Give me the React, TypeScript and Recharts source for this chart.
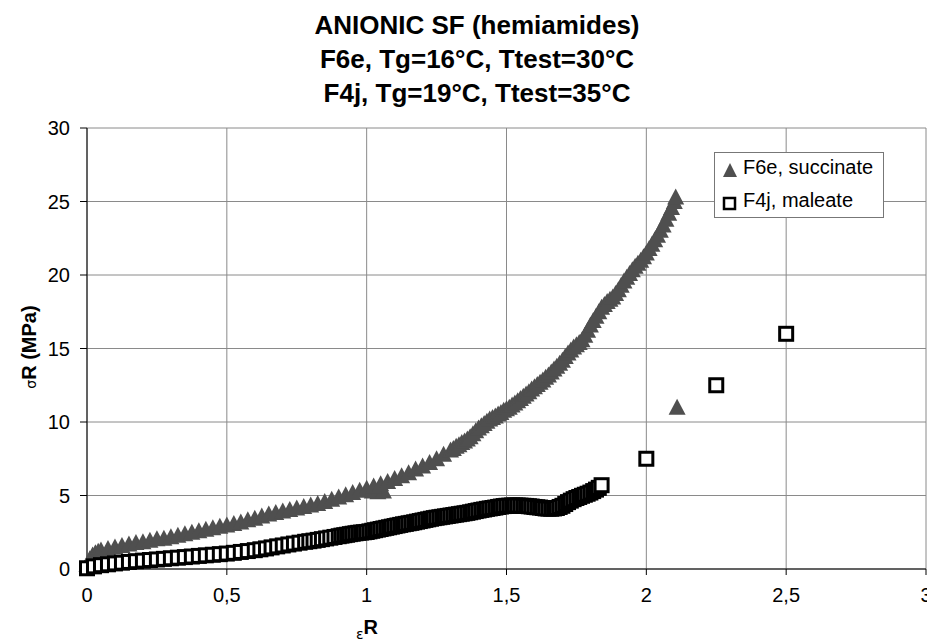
import React from 'react';
import {
  ScatterChart,
  Scatter,
  XAxis,
  YAxis,
  CartesianGrid
} from 'recharts';

// F6e, succinate: [strain, stress]
const succinatePts: [number, number][] = [
  [0.0, 0.3], [0.01, 0.7], [0.02, 0.95], [0.03, 1.1], [0.04, 1.2], [0.05, 1.3],
  [0.075, 1.4], [0.1, 1.5], [0.125, 1.6], [0.15, 1.7], [0.175, 1.8], [0.2, 1.85],
  [0.225, 1.95], [0.25, 2.05], [0.275, 2.1], [0.3, 2.2], [0.325, 2.3], [0.35, 2.4],
  [0.375, 2.5], [0.4, 2.6], [0.425, 2.7], [0.45, 2.8], [0.475, 2.9], [0.5, 3.0],
  [0.525, 3.1], [0.55, 3.2], [0.575, 3.35], [0.6, 3.45], [0.625, 3.6], [0.65, 3.75],
  [0.675, 3.85], [0.7, 3.95], [0.725, 4.05], [0.75, 4.15], [0.775, 4.25], [0.8, 4.35],
  [0.825, 4.45], [0.85, 4.6], [0.875, 4.75], [0.9, 4.9], [0.925, 5.05], [0.95, 5.2],
  [0.975, 5.35], [1.0, 5.5], [1.02, 5.3], [1.04, 5.25], [1.06, 5.3], [1.025, 5.65],
  [1.05, 5.8], [1.075, 5.95], [1.1, 6.15], [1.125, 6.35], [1.15, 6.55], [1.175, 6.8],
  [1.2, 7.0], [1.225, 7.25], [1.25, 7.5], [1.275, 7.8], [1.3, 8.1], [1.31, 8.2],
  [1.32, 8.35], [1.33, 8.45], [1.34, 8.6], [1.35, 8.7], [1.36, 8.85], [1.37, 9.0],
  [1.38, 9.2], [1.39, 9.4], [1.4, 9.6], [1.41, 9.75], [1.42, 9.9], [1.43, 10.05],
  [1.44, 10.2], [1.45, 10.3], [1.46, 10.4], [1.47, 10.55], [1.48, 10.65], [1.49, 10.8],
  [1.5, 10.9], [1.51, 11.0], [1.52, 11.15], [1.53, 11.3], [1.54, 11.45], [1.55, 11.6],
  [1.56, 11.75], [1.57, 11.9], [1.58, 12.05], [1.59, 12.25], [1.6, 12.4], [1.61, 12.55],
  [1.62, 12.7], [1.63, 12.85], [1.64, 13.05], [1.65, 13.2], [1.66, 13.4], [1.67, 13.6],
  [1.68, 13.8], [1.69, 14.0], [1.7, 14.2], [1.71, 14.45], [1.72, 14.7], [1.73, 14.9],
  [1.74, 15.1], [1.75, 15.25], [1.76, 15.4], [1.77, 15.6], [1.78, 15.9], [1.79, 16.25],
  [1.8, 16.6], [1.81, 16.9], [1.82, 17.2], [1.83, 17.5], [1.84, 17.8], [1.85, 18.0],
  [1.86, 18.2], [1.87, 18.35], [1.88, 18.5], [1.89, 18.75], [1.9, 19.0], [1.91, 19.3],
  [1.92, 19.6], [1.93, 19.85], [1.94, 20.1], [1.95, 20.35], [1.96, 20.6], [1.97, 20.8],
  [1.98, 21.0], [1.99, 21.25], [2.0, 21.5], [2.01, 21.8], [2.02, 22.1], [2.03, 22.4],
  [2.04, 22.7], [2.05, 23.05], [2.06, 23.4], [2.07, 23.8], [2.08, 24.2], [2.09, 24.6],
  [2.1, 25.0], [2.105, 25.3],
  [2.11, 11.0]
];

// F4j, maleate: [strain, stress]
const maleatePts: [number, number][] = [
  [0.0, 0.05], [0.025, 0.18], [0.05, 0.26], [0.075, 0.32], [0.1, 0.38], [0.125, 0.43],
  [0.15, 0.48], [0.175, 0.53], [0.2, 0.57], [0.225, 0.61], [0.25, 0.65], [0.275, 0.69],
  [0.3, 0.73], [0.325, 0.77], [0.35, 0.81], [0.375, 0.85], [0.4, 0.89], [0.425, 0.93],
  [0.45, 0.97], [0.475, 1.01], [0.5, 1.05], [0.525, 1.1], [0.55, 1.16], [0.575, 1.22],
  [0.6, 1.28], [0.62, 1.34], [0.64, 1.4], [0.66, 1.47], [0.68, 1.54], [0.7, 1.6],
  [0.72, 1.67], [0.74, 1.73], [0.76, 1.79], [0.78, 1.85], [0.795, 1.89], [0.81, 1.93],
  [0.825, 1.98], [0.84, 2.03], [0.855, 2.08], [0.87, 2.13], [0.885, 2.18], [0.9, 2.23],
  [0.91, 2.27], [0.92, 2.3], [0.93, 2.33], [0.94, 2.37], [0.95, 2.4], [0.96, 2.43],
  [0.97, 2.46], [0.98, 2.48], [0.99, 2.5], [1.0, 2.52], [1.01, 2.56], [1.02, 2.6],
  [1.03, 2.64], [1.04, 2.68], [1.05, 2.72], [1.06, 2.76], [1.07, 2.8], [1.08, 2.84],
  [1.09, 2.88], [1.1, 2.92], [1.11, 2.96], [1.12, 3.0], [1.13, 3.04], [1.14, 3.07],
  [1.15, 3.11], [1.16, 3.14], [1.17, 3.18], [1.18, 3.22], [1.19, 3.26], [1.2, 3.3],
  [1.21, 3.34], [1.22, 3.38], [1.23, 3.42], [1.24, 3.46], [1.25, 3.49], [1.26, 3.52],
  [1.27, 3.55], [1.28, 3.58], [1.29, 3.61], [1.3, 3.64], [1.31, 3.67], [1.32, 3.7],
  [1.33, 3.73], [1.34, 3.76], [1.35, 3.79], [1.36, 3.82], [1.37, 3.86], [1.38, 3.9],
  [1.39, 3.94], [1.4, 3.98], [1.41, 4.02], [1.42, 4.05], [1.43, 4.09], [1.44, 4.12],
  [1.45, 4.15], [1.46, 4.18], [1.47, 4.22], [1.48, 4.25], [1.49, 4.28], [1.5, 4.3],
  [1.51, 4.31], [1.52, 4.32], [1.53, 4.32], [1.54, 4.32], [1.55, 4.31], [1.56, 4.3],
  [1.57, 4.29], [1.58, 4.27], [1.59, 4.25], [1.6, 4.22], [1.61, 4.2], [1.62, 4.18],
  [1.63, 4.15], [1.64, 4.12], [1.65, 4.11], [1.66, 4.1], [1.67, 4.12], [1.68, 4.15],
  [1.69, 4.22], [1.7, 4.3], [1.71, 4.42], [1.72, 4.55], [1.73, 4.65], [1.74, 4.75],
  [1.75, 4.83], [1.76, 4.9], [1.77, 4.98], [1.78, 5.05], [1.79, 5.12], [1.8, 5.2],
  [1.81, 5.3], [1.82, 5.4], [1.83, 5.52], [1.84, 5.7],
  [2.0, 7.5], [2.25, 12.5], [2.5, 16.0]
];

const xTicks = [0, 0.5, 1, 1.5, 2, 2.5, 3];
const yTicks = [0, 5, 10, 15, 20, 25, 30];
const titleLines = [
  'ANIONIC SF (hemiamides)',
  'F6e, Tg=16°C, Ttest=30°C',
  'F4j, Tg=19°C, Ttest=35°C'
];
const seriesNames = ['F6e, succinate', 'F4j, maleate'];

const FONT = '"Liberation Sans", Arial, sans-serif';
const TRI_COLOR = '#4f4f4f';

const toPoints = (pts: [number, number][]) => pts.map(([x, y]) => ({ x, y }));

const TriangleDot = (props: any) => {
  const { cx, cy } = props;
  if (cx == null || cy == null) return null;
  return (
    <polygon
      points={`${cx},${cy - 8.5} ${cx + 8.5},${cy + 7.5} ${cx - 8.5},${cy + 7.5}`}
      fill={TRI_COLOR}
    />
  );
};

const SquareDot = (props: any) => {
  const { cx, cy } = props;
  if (cx == null || cy == null) return null;
  return (
    <rect x={cx - 6.5} y={cy - 6.5} width={13} height={13} fill="#fff" stroke="#000" strokeWidth={3} />
  );
};

const LegendBox = () => (
  <div
    style={{
      position: 'absolute',
      left: 714,
      top: 152,
      width: 170,
      height: 66,
      boxSizing: 'border-box',
      border: '1px solid #777',
      background: '#fff',
      fontFamily: FONT,
      fontSize: 20,
      color: '#000'
    }}
  >
    <svg width={28} height={64} style={{ position: 'absolute', left: 0, top: 0 }}>
      <polygon points="15,10 22,24 8,24" fill={TRI_COLOR} />
      <rect x={9} y={45} width={11} height={11} fill="#fff" stroke="#000" strokeWidth={2.5} />
    </svg>
    <div style={{ position: 'absolute', left: 28, top: 3, lineHeight: '22px' }}>{seriesNames[0]}</div>
    <div style={{ position: 'absolute', left: 28, top: 36, lineHeight: '22px' }}>{seriesNames[1]}</div>
  </div>
);

const fmt = (v: number) => String(v).replace('.', ',');

export default function App() {
  return (
    <div style={{ position: 'absolute', left: 0, top: 0, width: 927, height: 642, background: '#fff', fontFamily: FONT }}>
      {titleLines.map((t, i) => (
        <div
          key={t}
          style={{
            position: 'absolute',
            left: 477,
            top: 12 + i * 34,
            transform: 'translateX(-50%)',
            whiteSpace: 'nowrap',
            fontSize: 26,
            lineHeight: '26px',
            fontWeight: 'bold',
            color: '#000'
          }}
        >
          {t}
        </div>
      ))}
      <ScatterChart width={927} height={642} margin={{ top: 128, right: 1, bottom: 0, left: 0 }}>
        <CartesianGrid stroke="#8a8a8a" strokeWidth={1} />
        <XAxis
          type="number"
          dataKey="x"
          domain={[0, 3]}
          ticks={xTicks}
          interval={0}
          tickFormatter={fmt}
          height={73}
          stroke="#000"
          tickSize={6}
          tickMargin={13}
          tick={{ fill: '#000', fontSize: 20, fontFamily: FONT }}
        />
        <YAxis
          type="number"
          dataKey="y"
          domain={[0, 30]}
          ticks={yTicks}
          interval={0}
          width={87}
          stroke="#000"
          tickSize={7}
          tickMargin={10}
          tick={{ fill: '#000', fontSize: 20, fontFamily: FONT }}
        />
        <Scatter
          name={seriesNames[0]}
          data={toPoints(succinatePts)}
          shape={TriangleDot}
          isAnimationActive={false}
        />
        <Scatter
          name={seriesNames[1]}
          data={toPoints(maleatePts)}
          shape={SquareDot}
          isAnimationActive={false}
        />
      </ScatterChart>
      <LegendBox />
      <div
        style={{
          position: 'absolute',
          left: 30,
          top: 347,
          transform: 'translate(-50%, -50%) rotate(-90deg)',
          whiteSpace: 'nowrap',
          fontSize: 20,
          lineHeight: '20px',
          color: '#000'
        }}
      >
        <span style={{ fontFamily: '"DejaVu Sans", sans-serif', fontSize: 14 }}>σ</span>
        <b>R (MPa)</b>
      </div>
      <div
        style={{
          position: 'absolute',
          left: 356,
          top: 617,
          whiteSpace: 'nowrap',
          fontSize: 20,
          lineHeight: '20px',
          color: '#000'
        }}
      >
        <span style={{ fontFamily: '"DejaVu Sans", sans-serif', fontSize: 14, position: 'relative', top: 5 }}>ε</span>
        <b>R</b>
      </div>
    </div>
  );
}
